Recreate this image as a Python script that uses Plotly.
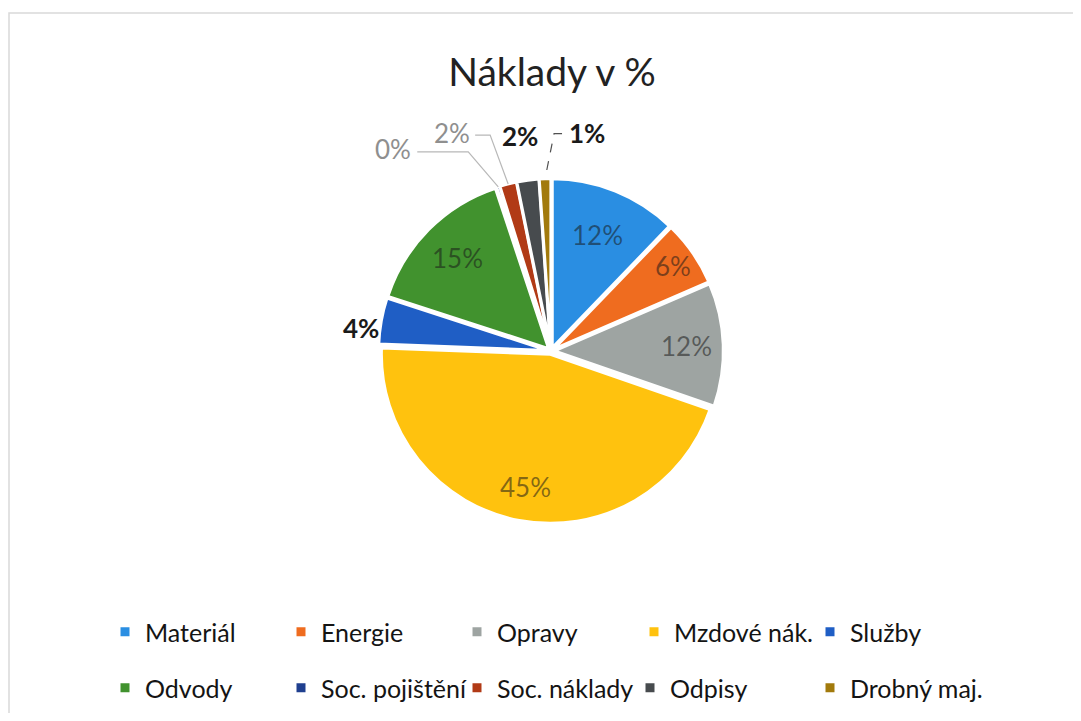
import math
import plotly.graph_objects as go

# ---------------- data ----------------
title_text = "Náklady v %"
categories = ["Materiál", "Energie", "Opravy", "Mzdové nák.", "Služby",
              "Odvody", "Soc. pojištění", "Soc. náklady", "Odpisy", "Drobný maj."]
values = [12.2, 6.3, 11.8, 45.3, 4.4, 14.9, 0.3, 1.6, 2.1, 1.1]

# ---------------- style ----------------
colors = ["#2a8ee2", "#ef6c1f", "#9ea4a2", "#ffc20e", "#1f5ec5",
          "#41922e", "#1f3f8f", "#b13a16", "#474b4e", "#a27a0c"]
# label style per slice: ("in", radial fraction) or
# ("out", ax, ay, font colour, bold, leader colour, leader offsets, dash)
label_style = [
    ("in", 0.72), ("in", 0.86), ("in", 0.78), ("in", 0.80),
    ("out", -20, 7, "#1a1a1a", True, None, None, None),
    ("in", 0.76),
    ("out", -105, -38, "#8f8f8f", False, "#b8b8b8", [(-81, -35), (-30, -35), (0, 0)], "solid"),
    ("out", -56, -51, "#8f8f8f", False, "#b8b8b8", [(-33, -49), (-18, -49), (0, 0)], "solid"),
    ("out", -8, -44, "#1a1a1a", True, None, None, None),
    ("out", 42, -46, "#1a1a1a", True, "#505050", [(17, -45), (9, -45), (0, 0)], "dash"),
]
# legend layout: two rows, text start x (page px) of each entry, row centre y
legend_text_x = [143, 319, 495, 672, 848, 143, 319, 495, 668, 848]
legend_row_y = [632, 632, 632, 632, 632, 688, 688, 688, 688, 688]

FONT = "Lato"
PAGE_OFF = 8                      # default body margin of the html page
W, H = 1081 - 2 * PAGE_OFF, 721 - 2 * PAGE_OFF
CX, CY, R = 551, 351, 169         # in page pixels
PULL = 0.02
R0 = R * (1 + PULL)


def px2x(px):
    return (px - PAGE_OFF) / W


def py2y(py):
    return 1 - (py - PAGE_OFF) / H


fig = go.Figure()
fig.add_trace(go.Pie(
    labels=categories, values=values, sort=False, direction="clockwise", rotation=0,
    marker=dict(colors=colors, line=dict(color="white", width=3)),
    pull=PULL, textinfo="none", hoverinfo="label+percent", showlegend=False,
    domain=dict(x=[px2x(CX - R0), px2x(CX + R0)], y=[py2y(CY + R0), py2y(CY - R0)]),
))

# legend entries: one legend per entry so each sits in its own column
legend_layouts = {}
for i, (cat, col) in enumerate(zip(categories, colors)):
    lid = "legend" if i == 0 else f"legend{i + 1}"
    fig.add_trace(go.Scatter(
        x=[None], y=[None], mode="markers", name=cat,
        marker=dict(symbol="square", size=9, color=col),
        legend=lid, showlegend=True, hoverinfo="skip"))
    legend_layouts[lid] = dict(
        x=px2x(legend_text_x[i] - 38), y=py2y(legend_row_y[i]),
        xanchor="left", yanchor="middle",
        font=dict(family=FONT, size=25, color="#141414"), bgcolor="rgba(0,0,0,0)")

# data labels computed from the slice angles
total = sum(values)
cum = 0.0
annotations = []
shapes = [dict(type="rect", xref="paper", yref="paper", x0=px2x(9), y0=py2y(718),
               x1=1.02, y1=py2y(13), line=dict(color="#d9d9d9", width=1.5),
               fillcolor="rgba(0,0,0,0)", layer="below")]
for v, st in zip(values, label_style):
    mid = (cum + v / 2) / total
    cum += v
    th = 2 * math.pi * mid
    sx, sy = math.sin(th), -math.cos(th)
    ox, oy = CX + PULL * R * sx, CY + PULL * R * sy
    txt = f"{round(100 * v / total)}%"
    if st[0] == "in":
        k = st[1]
        px, py = ox + k * R * sx, oy + k * R * sy
        annotations.append(dict(
            x=px2x(px), y=py2y(py), xref="paper", yref="paper", text=txt, showarrow=False,
            font=dict(family=FONT, size=26, color="rgba(25,25,25,0.55)"),
            xanchor="center", yanchor="middle"))
    else:
        _, ax, ay, fc, bold, lc, leader, dash = st
        px, py = ox + R * sx, oy + R * sy
        annotations.append(dict(
            x=px2x(px), y=py2y(py), xref="paper", yref="paper",
            text=f"<b>{txt}</b>" if bold else txt,
            showarrow=True, ax=ax, ay=ay, arrowhead=0, standoff=0,
            arrowwidth=1, arrowcolor="rgba(0,0,0,0)",
            font=dict(family=FONT, size=26, color=fc)))
        if leader:
            pts = [(px2x(px + dx), py2y(py + dy)) for dx, dy in leader]
            path = "M " + " L ".join(f"{a:.5f},{b:.5f}" for a, b in pts)
            shapes.append(dict(type="path", xref="paper", yref="paper", path=path,
                               line=dict(color=lc, width=1.2, dash=dash)))

fig.update_layout(
    width=W, height=H, margin=dict(l=0, r=0, t=0, b=0),
    paper_bgcolor="white", plot_bgcolor="white",
    xaxis=dict(visible=False), yaxis=dict(visible=False),
    title=dict(text=title_text, x=px2x(552), y=py2y(72), xanchor="center", yanchor="middle",
               font=dict(family=FONT, size=39, color="#222222")),
    annotations=annotations,
    shapes=shapes,
    **legend_layouts,
)

fig.write_html("out.html")
